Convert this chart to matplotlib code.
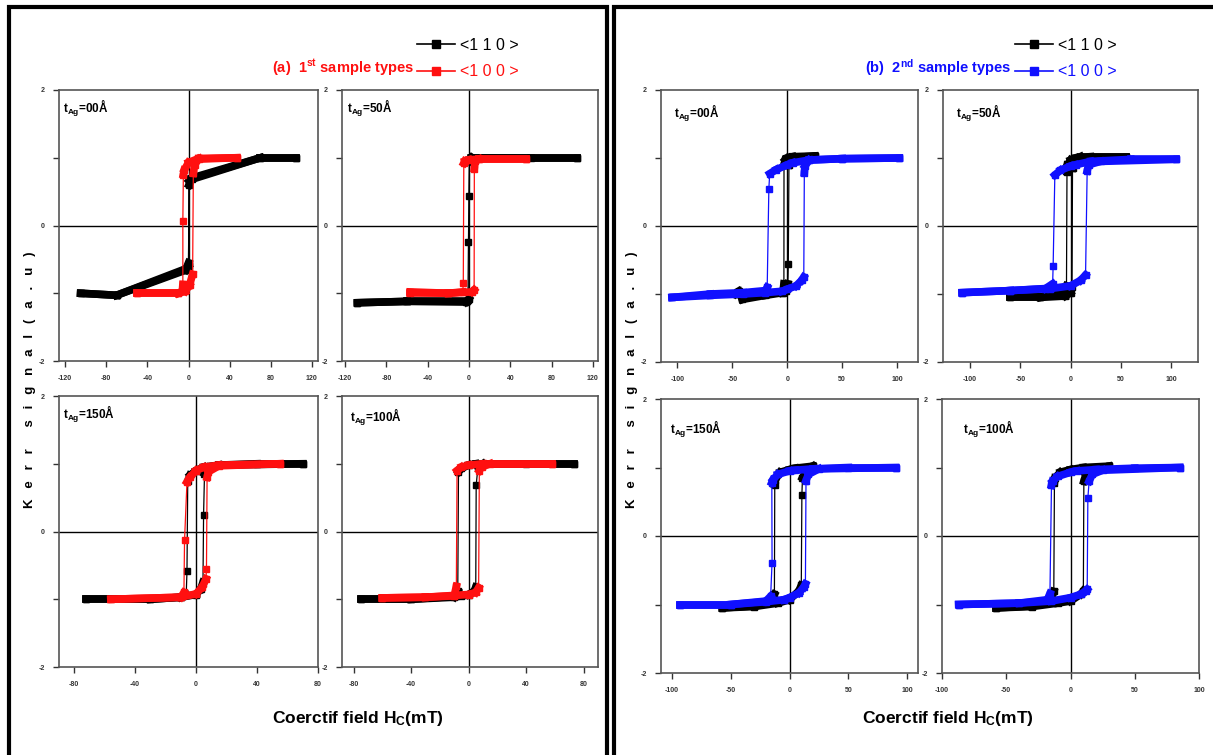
import numpy as np
import matplotlib
matplotlib.use("Agg")
import matplotlib.pyplot as plt
from matplotlib.collections import LineCollection
from matplotlib.lines import Line2D
from matplotlib.patches import Rectangle

# ---- data: (H in mT, Kerr signal in a.u.) ----
# (a) 1st sample types, <110> black / <100> red
A00_110_DOWN = [(105, 1.0), (70, 1.0), (3, 0.7), (0.5, 0.66), (0, -0.55), (-3, -0.66), (-70, -1.03), (-105, -1.0)]
A00_110_UP = [(-105, -1.0), (-70, -1.03), (-3, -0.64), (0, -0.6), (0.5, 0.6), (3, 0.68), (70, 1.0), (105, 1.0)]
A00_100_DOWN = [(47, 1.0), (10, 0.99), (0, 0.93), (-4, 0.82), (-5, 0.75), (-5.5, 0.07), (-5.5, -0.87), (-6, -0.97), (-10, -1.0), (-50, -1.0)]
A00_100_UP = [(-50, -1.0), (-10, -1.0), (-3, -0.97), (1, -0.88), (4, -0.72), (4.7, 0.77), (6, 0.9), (10, 0.98), (47, 1.0)]

A50_110_DOWN = [(105, 1.0), (60, 1.0), (2, 1.0), (0.5, 0.97), (0, 0.44), (-0.5, -0.24), (-1, -1.1), (-3, -1.13), (-60, -1.12), (-108, -1.14)]
A50_110_UP = [(-108, -1.14), (-60, -1.12), (-2, -1.12), (0, -1.08), (0.5, 0.95), (3, 1.0), (105, 1.0)]
A50_100_DOWN = [(55, 0.98), (10, 0.98), (0, 0.97), (-4, 0.95), (-5, 0.92), (-5.5, -0.85), (-6, -0.98), (-20, -1.0), (-57, -0.98)]
A50_100_UP = [(-57, -1.0), (-20, -1.0), (3, -0.98), (5, -0.95), (5.2, 0.84), (6, 0.95), (10, 0.98), (55, 0.98)]

A150_110_DOWN = [(70, 1.0), (40, 1.0), (15, 0.98), (5, 0.95), (0, 0.9), (-4, 0.83), (-5.5, 0.74), (-6, -0.59), (-6.5, -0.93), (-10, -0.97), (-30, -1.0), (-72, -1.0)]
A150_110_UP = [(-72, -1.0), (-30, -1.0), (-10, -0.97), (0, -0.93), (3, -0.85), (4.5, -0.75), (4.9, 0.25), (5.5, 0.85), (8, 0.94), (15, 0.98), (70, 1.0)]
A150_100_DOWN = [(55, 1.0), (15, 0.98), (5, 0.95), (0, 0.9), (-4, 0.8), (-6, 0.73), (-7.6, -0.13), (-8, -0.9), (-10, -0.97), (-56, -1.0)]
A150_100_UP = [(-56, -1.0), (-10, -0.97), (0, -0.92), (4, -0.82), (6.5, -0.7), (6.8, -0.55), (7.2, 0.8), (8, 0.88), (15, 0.97), (55, 1.0)]

A100_110_DOWN = [(73, 1.0), (40, 1.0), (5, 1.0), (0, 0.98), (-5, 0.93), (-7, 0.88), (-7.5, -0.88), (-10, -0.97), (-40, -1.0), (-75, -1.0)]
A100_110_UP = [(-75, -1.0), (-40, -1.0), (-5, -0.95), (0, -0.93), (4, -0.88), (5, -0.82), (5.3, 0.68), (6.5, 0.95), (10, 1.0), (73, 1.0)]
A100_100_DOWN = [(58, 1.0), (10, 1.0), (0, 0.98), (-5, 0.95), (-8, 0.9), (-8.5, -0.81), (-10, -0.95), (-30, -0.97), (-60, -0.98)]
A100_100_UP = [(-60, -0.98), (-30, -0.97), (0, -0.93), (5, -0.9), (7, -0.83), (7.5, 0.9), (9, 0.95), (15, 1.0), (58, 1.0)]

# (b) 2nd sample types, <110> black / <100> blue
B00_110_DOWN = [(25, 1.03), (5, 1.02), (0, 1.0), (-2, 0.97), (-3, 0.9), (-3.1, -0.85), (-4, -0.98), (-20, -1.02), (-41, -1.08), (-44, -0.96), (-47, -1.0)]
B00_110_UP = [(-47, -1.0), (-20, -1.0), (-5, -0.98), (-1, -0.95), (0.5, -0.85), (0.9, -0.56), (1.5, 0.9), (3, 1.0), (25, 1.03)]
B00_100_DOWN = [(102, 1.0), (50, 0.99), (20, 0.97), (5, 0.93), (0, 0.9), (-10, 0.83), (-16, 0.77), (-16.8, 0.55), (-18.3, -0.9), (-20, -0.95), (-40, -0.98), (-70, -1.0), (-105, -1.05)]
B00_100_UP = [(-105, -1.05), (-70, -1.02), (-40, -1.0), (-20, -0.98), (-5, -0.96), (0, -0.93), (8, -0.88), (13, -0.8), (15, -0.75), (15.5, 0.78), (16, 0.88), (20, 0.97), (50, 0.99), (102, 1.0)]

B50_110_DOWN = [(55, 1.02), (20, 1.02), (5, 1.0), (0, 0.97), (-3, 0.9), (-3.5, 0.8), (-4, -0.88), (-6, -0.95), (-30, -1.05), (-60, -1.05)]
B50_110_UP = [(-60, -1.05), (-30, -1.05), (-5, -1.03), (0, -0.98), (1.5, -0.9), (2, 0.85), (3, 0.97), (10, 1.02), (55, 1.02)]
B50_100_DOWN = [(105, 0.98), (60, 0.98), (20, 0.95), (5, 0.9), (0, 0.88), (-10, 0.82), (-15.6, 0.75), (-17.3, -0.59), (-17.8, -0.85), (-25, -0.92), (-60, -0.95), (-108, -0.98)]
B50_100_UP = [(-108, -0.98), (-60, -0.95), (-20, -0.92), (0, -0.88), (10, -0.8), (15, -0.72), (16.6, 0.81), (18, 0.9), (30, 0.95), (105, 0.98)]

B150_110_DOWN = [(20, 1.02), (5, 0.99), (0, 0.97), (-8, 0.93), (-12, 0.82), (-12.5, 0.75), (-12.8, -0.85), (-16, -0.95), (-30, -1.02), (-57, -1.05)]
B150_110_UP = [(-57, -1.05), (-30, -1.03), (-10, -0.98), (0, -0.93), (8, -0.8), (10, -0.72), (10.5, 0.6), (11, 0.85), (14, 0.95), (20, 1.02)]
B150_100_DOWN = [(90, 1.0), (50, 1.0), (20, 0.98), (5, 0.96), (0, 0.95), (-10, 0.9), (-14, 0.82), (-15, 0.78), (-14.8, -0.39), (-16, -0.88), (-20, -0.95), (-50, -1.0), (-93, -1.0)]
B150_100_UP = [(-93, -1.0), (-50, -1.0), (-20, -0.96), (-5, -0.93), (0, -0.9), (8, -0.83), (12, -0.75), (13.5, -0.7), (14, 0.81), (16, 0.9), (25, 0.98), (90, 1.0)]

B100_110_DOWN = [(30, 1.02), (10, 1.0), (0, 0.97), (-8, 0.93), (-12, 0.85), (-12.5, 0.78), (-13, -0.81), (-15, -0.93), (-30, -1.02), (-58, -1.05)]
B100_110_UP = [(-58, -1.05), (-30, -1.03), (-10, -0.98), (0, -0.95), (8, -0.85), (10, -0.8), (10.4, 0.8), (12, 0.9), (15, 0.96), (30, 1.02)]
B100_100_DOWN = [(85, 1.0), (50, 0.99), (20, 0.97), (5, 0.95), (0, 0.93), (-10, 0.87), (-14, 0.8), (-14.8, 0.74), (-16, -0.84), (-18, -0.93), (-40, -0.98), (-87, -1.0)]
B100_100_UP = [(-87, -1.0), (-40, -0.98), (-15, -0.95), (0, -0.9), (8, -0.85), (12, -0.8), (13, -0.78), (13.5, 0.55), (14.5, 0.8), (17, 0.9), (25, 0.96), (85, 1.0)]

LABELS = ["00", "50", "150", "100"]
XT_WIDE = [-120, -80, -40, 0, 40, 80, 120]
XT_NARROW = [-80, -40, 0, 40, 80]
XT_B = [-100, -50, 0, 50, 100]

RED = "#ff1010"
BLUE = "#1010ff"
FONT = "Liberation Sans"

plt.rcParams["font.family"] = [FONT, "DejaVu Sans"]
plt.rcParams["mathtext.fontset"] = "custom"
plt.rcParams["mathtext.rm"] = FONT + ":bold"
plt.rcParams["mathtext.it"] = FONT + ":bold"
plt.rcParams["mathtext.bf"] = FONT + ":bold"

W, H = 1213, 755
fig = plt.figure(figsize=(W / 100, H / 100), dpi=100)


def px_axes(x0, y0, x1, y1):
    return fig.add_axes([x0 / W, 1 - y1 / H, (x1 - x0) / W, (y1 - y0) / H])


def draw_branch(ax, pts, color, z):
    h = np.array([p[0] for p in pts], float)
    m = np.array([p[1] for p in pts], float)
    steep = np.abs(np.diff(m)) > 0.15 * np.abs(np.diff(h)) + 0.05
    ax.plot(h, m, color=color, lw=0.9, zorder=z)
    segs = [[(h[i], m[i]), (h[i + 1], m[i + 1])] for i in range(len(h) - 1) if not steep[i]]
    ax.add_collection(LineCollection(segs, colors=color, linewidths=5.5, capstyle="projecting", zorder=z))
    ax.plot(h, m, "s", color=color, ms=4, zorder=z)


def panel(rect, xlim, xticks, label, lpos, black, colored, color):
    ax = px_axes(*rect)
    ax.set_xlim(xlim)
    ax.set_ylim(-2, 2)
    ax.set_xticks(xticks)
    ax.set_xticklabels([str(t) for t in xticks])
    ax.set_yticks([-2, -1, 0, 1, 2])
    ax.set_yticklabels(["-2", "", "0", "", "2"])
    ax.tick_params(direction="out", length=4, width=1, labelsize=5, pad=6, colors="#333333")
    for lab in ax.get_xticklabels() + ax.get_yticklabels():
        lab.set_fontweight("bold")
    for s in ax.spines.values():
        s.set_color("#555555")
        s.set_linewidth(1.2)
    ax.axhline(0, color="k", lw=1, zorder=1)
    ax.axvline(0, color="k", lw=1, zorder=1)
    for br in black:
        draw_branch(ax, br, "black", 2)
    for br in colored:
        draw_branch(ax, br, color, 3)
    ax.text(lpos[0], lpos[1], r"t$_{Ag}$=" + label + "Å", transform=ax.transAxes,
            fontsize=8.5, fontweight="bold", va="center", ha="left")
    return ax


# (a) panels
panel((59, 90, 318, 361), (-126, 126), XT_WIDE, LABELS[0], (0.015, 0.93),
      [A00_110_DOWN, A00_110_UP], [A00_100_DOWN, A00_100_UP], RED)
panel((342, 90, 598, 361), (-123, 125), XT_WIDE, LABELS[1], (0.02, 0.93),
      [A50_110_DOWN, A50_110_UP], [A50_100_DOWN, A50_100_UP], RED)
panel((59, 396, 318, 667), (-90, 80), XT_NARROW, LABELS[2], (0.015, 0.93),
      [A150_110_DOWN, A150_110_UP], [A150_100_DOWN, A150_100_UP], RED)
panel((342, 396, 598, 667), (-88, 90), XT_NARROW, LABELS[3], (0.03, 0.92),
      [A100_110_DOWN, A100_110_UP], [A100_100_DOWN, A100_100_UP], RED)

# (b) panels
panel((661, 90, 918, 362), (-115, 119), XT_B, LABELS[0], (0.05, 0.915),
      [B00_110_DOWN, B00_110_UP], [B00_100_DOWN, B00_100_UP], BLUE)
panel((943, 90, 1198, 362), (-127, 127), XT_B, LABELS[1], (0.05, 0.915),
      [B50_110_DOWN, B50_110_UP], [B50_100_DOWN, B50_100_UP], BLUE)
panel((661, 399, 918, 673), (-109, 109), XT_B, LABELS[2], (0.035, 0.89),
      [B150_110_DOWN, B150_110_UP], [B150_100_DOWN, B150_100_UP], BLUE)
panel((942, 399, 1199, 673), (-100, 100), XT_B, LABELS[3], (0.08, 0.89),
      [B100_110_DOWN, B100_110_UP], [B100_100_DOWN, B100_100_UP], BLUE)

# frames
fig.add_artist(Rectangle((9 / W, -0.05), 598 / W, 1.05 - 7 / H, transform=fig.transFigure,
                         fill=False, lw=3, ec="black"))
fig.add_artist(Rectangle((614 / W, -0.05), 0.6, 1.05 - 7 / H, transform=fig.transFigure,
                         fill=False, lw=3, ec="black"))

# titles and legends
for tx, lx, txt, col in [(272, 417, r"(a)  1$^{st}$ sample types", RED),
                         (865, 1015, r"(b)  2$^{nd}$ sample types", BLUE)]:
    fig.text(tx / W, 1 - 68 / H, txt, color=col, fontsize=10.5, fontweight="bold",
             va="center", ha="left")
    handles = [Line2D([], [], color="black", marker="s", ms=6, lw=1.2),
               Line2D([], [], color=col, marker="s", ms=6, lw=1.2)]
    fig.legend(handles, ["<1 1 0 >", "<1 0 0 >"], loc="upper left",
               bbox_to_anchor=(lx / W, 1 - 38 / H), frameon=False,
               handlelength=2.4, handletextpad=0.3, labelspacing=0.7,
               borderpad=0, borderaxespad=0, labelcolor=["black", col],
               prop={"family": FONT, "size": 11.5})

# axis titles
ylab = "   ".join("Kerr") + "      " + "   ".join("signal(a.u)")
for yx, xx in [(30, 358), (632, 948)]:
    fig.text(yx / W, 1 - 380 / H, ylab, rotation=90,
             fontsize=9.5, fontweight="bold", va="center", ha="center")
    fig.text(xx / W, 1 - 718 / H, r"Coerctif field H$_C$(mT)", fontsize=12.5,
             fontweight="bold", va="center", ha="center")

fig.savefig("out.png", dpi=100)
